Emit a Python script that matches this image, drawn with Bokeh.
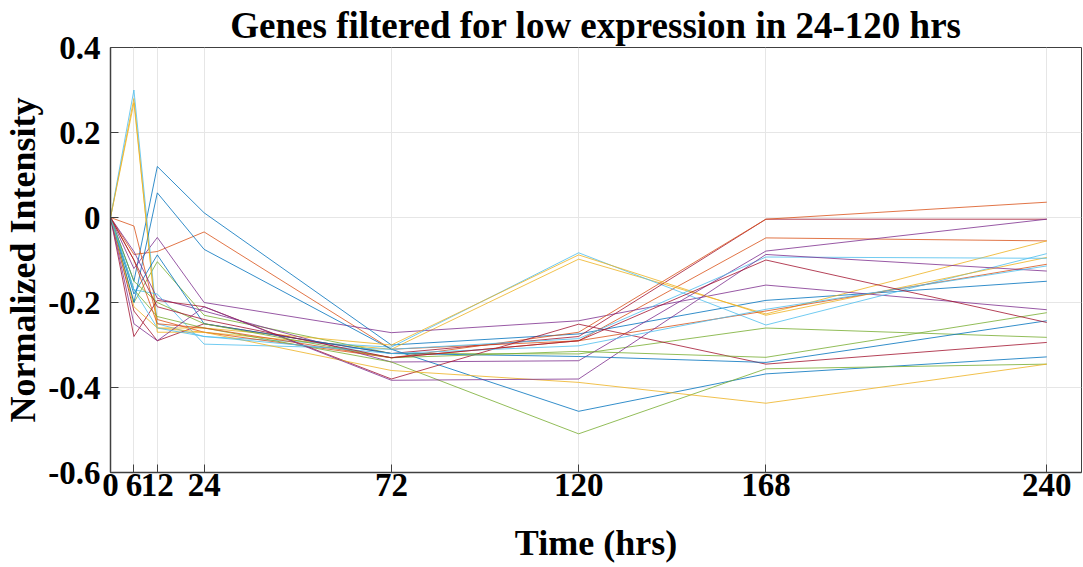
from bokeh.plotting import figure
from bokeh.models import Range1d, FixedTicker
from bokeh.embed import file_html
from bokeh.resources import INLINE

time_hrs = [0, 6, 12, 24, 72, 120, 168, 240]
x_ticks = [0, 6, 12, 24, 72, 120, 168, 240]
y_ticks = [-0.6, -0.4, -0.2, 0.0, 0.2, 0.4]
y_tick_labels = ["-0.6", "-0.4", "-0.2", "0", "0.2", "0.4"]

g01 = [0, -0.15, 0.12, 0.011, -0.30, -0.274, -0.195, -0.15]
g02 = [0, -0.087, -0.08, -0.034, -0.31, -0.29, -0.048, -0.055]
g03 = [0, 0.28, -0.27, -0.27, -0.31, -0.098, -0.227, -0.055]
g04 = [0, -0.12, -0.047, -0.20, -0.271, -0.243, -0.159, -0.217]
g05 = [0, -0.20, -0.104, -0.23, -0.32, -0.321, -0.26, -0.282]
g06 = [0, 0.30, -0.25, -0.28, -0.305, -0.083, -0.253, -0.085]
g07 = [0, -0.22, -0.29, -0.25, -0.32, -0.28, -0.004, -0.004]
g08 = [0, -0.20, 0.058, -0.075, -0.31, -0.456, -0.368, -0.328]
g09 = [0, -0.02, -0.24, -0.27, -0.33, -0.27, -0.004, 0.036]
g10 = [0, 0.27, -0.26, -0.26, -0.30, -0.088, -0.23, -0.094]
g11 = [0, -0.08, -0.19, -0.22, -0.34, -0.337, -0.079, -0.004]
g12 = [0, -0.17, -0.233, -0.26, -0.34, -0.509, -0.356, -0.345]
g13 = [0, -0.17, -0.18, -0.298, -0.31, -0.285, -0.093, -0.096]
g14 = [0, -0.28, -0.195, -0.21, -0.38, -0.251, -0.345, -0.294]
g15 = [0, -0.18, -0.088, -0.25, -0.32, -0.327, -0.341, -0.243]
g16 = [0, -0.10, -0.25, -0.26, -0.33, -0.29, -0.22, -0.11]
g17 = [0, -0.21, -0.26, -0.27, -0.36, -0.388, -0.437, -0.345]
g18 = [0, -0.25, -0.29, -0.21, -0.383, -0.38, -0.087, -0.126]
g19 = [0, -0.15, -0.20, -0.25, -0.33, -0.315, -0.329, -0.224]
g20 = [0, -0.17, -0.26, -0.28, -0.32, -0.302, -0.216, -0.114]
g21 = [0, -0.10, -0.21, -0.24, -0.33, -0.29, -0.10, -0.247]

series = [g01, g02, g03, g04, g05, g06, g07, g08, g09, g10, g11,
          g12, g13, g14, g15, g16, g17, g18, g19, g20, g21]

palette = ["#0072BD", "#D95319", "#EDB120", "#7E2F8E",
           "#77AC30", "#4DBEEE", "#A2142F"]

FONT = "Liberation Serif"

p = figure(width=1083, height=567, output_backend="svg", toolbar_location=None,
           x_range=Range1d(0, 248.9), y_range=Range1d(-0.6, 0.4),
           min_border_left=107, min_border_right=2, min_border_top=0,
           min_border_bottom=95,
           title="Genes filtered for low expression in 24-120 hrs")

p.title.text_font = FONT
p.title.text_font_size = "37px"
p.title.text_font_style = "bold"
p.title.align = "center"
p.title.standoff = 4
p.title.text_color = "black"

for i, ys in enumerate(series):
    p.line(time_hrs, ys, line_color=palette[i % len(palette)],
           line_width=1, line_alpha=0.8)

p.xaxis.ticker = FixedTicker(ticks=x_ticks)
p.yaxis.ticker = FixedTicker(ticks=y_ticks)
p.yaxis.major_label_overrides = {t: s for t, s in zip(y_ticks, y_tick_labels)}
p.xaxis.axis_label = "Time (hrs)"
p.yaxis.axis_label = "Normalized Intensity"

for ax in (p.xaxis[0], p.yaxis[0]):
    ax.major_label_text_font = FONT
    ax.major_label_text_font_size = "33px"
    ax.major_label_text_font_style = "bold"
    ax.major_label_text_color = "black"
    ax.axis_label_text_font = FONT
    ax.axis_label_text_font_size = "36px"
    ax.axis_label_text_font_style = "bold"
    ax.axis_label_text_color = "black"
    ax.major_tick_in = 8
    ax.major_tick_out = 0
    ax.minor_tick_in = 0
    ax.minor_tick_out = 0
    ax.axis_line_color = "#404040"
    ax.major_tick_line_color = "#404040"
    ax.axis_line_width = 1.5

p.xaxis.major_label_standoff = 1
p.xaxis.axis_label_standoff = 24
p.yaxis.major_label_standoff = 10
p.yaxis.axis_label_standoff = 2

p.grid.grid_line_color = "#e6e6e6"
p.grid.grid_line_width = 1
p.outline_line_color = "#404040"
p.outline_line_width = 1
p.background_fill_color = "white"
p.border_fill_color = "white"

out = file_html(p, INLINE)
open("out.html", "w").write(out)
